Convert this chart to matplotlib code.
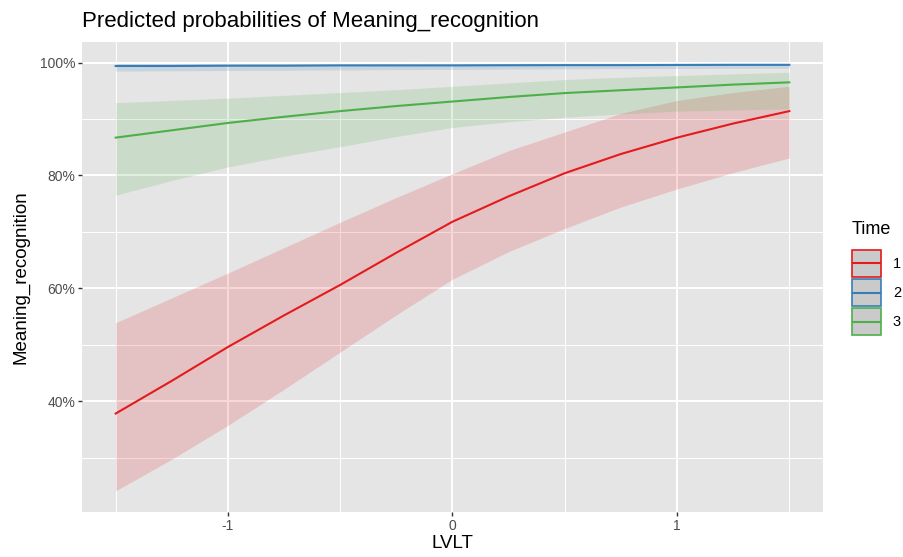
import matplotlib
matplotlib.use("Agg")
import matplotlib.pyplot as plt
from matplotlib.patches import Rectangle
from matplotlib.lines import Line2D

plt.rcParams['font.family'] = ['Liberation Sans', 'DejaVu Sans']

lvlt = [-1.5, -1.25, -1.0, -0.75, -0.5, -0.25, 0.0, 0.25, 0.5, 0.75, 1.0, 1.25, 1.5]

# Time 1
t1_pred = [0.378, 0.436, 0.496, 0.552, 0.606, 0.663, 0.718, 0.763, 0.804, 0.838, 0.867, 0.892, 0.914]
t1_low = [0.241, 0.297, 0.357, 0.421, 0.487, 0.553, 0.616, 0.665, 0.706, 0.744, 0.776, 0.805, 0.831]
t1_high = [0.539, 0.583, 0.627, 0.672, 0.717, 0.761, 0.803, 0.844, 0.877, 0.910, 0.933, 0.947, 0.958]
# Time 2
t2_pred = [0.994, 0.994, 0.9945, 0.9945, 0.995, 0.995, 0.995, 0.9953, 0.9955, 0.9955, 0.9958, 0.996, 0.996]
t2_low = [0.985, 0.9855, 0.986, 0.9865, 0.987, 0.9875, 0.988, 0.9885, 0.989, 0.9893, 0.9896, 0.9898, 0.990]
t2_high = [0.998, 0.998, 0.998, 0.9982, 0.9983, 0.9984, 0.9985, 0.9986, 0.9987, 0.9988, 0.9989, 0.999, 0.999]
# Time 3
t3_pred = [0.867, 0.880, 0.893, 0.904, 0.914, 0.923, 0.931, 0.939, 0.946, 0.951, 0.956, 0.961, 0.965]
t3_low = [0.765, 0.791, 0.815, 0.834, 0.851, 0.869, 0.885, 0.895, 0.903, 0.909, 0.914, 0.916, 0.918]
t3_high = [0.929, 0.933, 0.937, 0.942, 0.947, 0.952, 0.958, 0.964, 0.970, 0.974, 0.977, 0.980, 0.983]

times = ["1", "2", "3"]
colors = ["#E41A1C", "#377EB8", "#4DAF4A"]
preds = [t1_pred, t2_pred, t3_pred]
lows = [t1_low, t2_low, t3_low]
highs = [t1_high, t2_high, t3_high]

xticks = [-1, 0, 1]
xticklabels = ["-1", "0", "1"]
yticks = [0.4, 0.6, 0.8, 1.0]
yticklabels = ["40%", "60%", "80%", "100%"]


class KeyHandler:
    # ggplot-like legend key: grey box with coloured border and a line through it
    def legend_artist(self, legend, orig_handle, fontsize, handlebox):
        xd, yd = handlebox.xdescent, handlebox.ydescent
        w, h = handlebox.width, handlebox.height
        c = orig_handle.get_color()
        box = Rectangle((-xd, -yd), w, h, facecolor="#CACACA", edgecolor=c,
                        linewidth=1.2, transform=handlebox.get_transform())
        ln = Line2D([-xd + 1, -xd + w - 1], [-yd + h / 2, -yd + h / 2], color=c,
                    linewidth=1.5, transform=handlebox.get_transform())
        handlebox.add_artist(box)
        handlebox.add_artist(ln)
        return box


fig = plt.figure(figsize=(9.04, 5.57), dpi=100)
ax = fig.add_axes([82/904, 1-512/557, 741/904, 470/557])
ax.set_facecolor("#E5E5E5")

for lo, hi, c in zip(lows, highs, colors):
    ax.fill_between(lvlt, lo, hi, color=c, alpha=0.17, linewidth=0)
lines = []
for p, c in zip(preds, colors):
    l, = ax.plot(lvlt, p, color=c, linewidth=1.5)
    lines.append(l)

ax.set_xlim(-1.65, 1.65)
ax.set_ylim(0.2035, 1.0365)
ax.set_xticks(xticks)
ax.set_xticklabels(xticklabels)
ax.set_yticks(yticks)
ax.set_yticklabels(yticklabels)
ax.set_xticks([-1.5, -0.5, 0.5, 1.5], minor=True)
ax.set_yticks([0.3, 0.5, 0.7, 0.9], minor=True)
ax.grid(which="major", color="white", linewidth=1.4)
ax.grid(which="minor", color="white", linewidth=0.7)
ax.set_axisbelow(True)
for s in ax.spines.values():
    s.set_visible(False)
ax.tick_params(which="major", length=3, width=1, color="#333333",
               labelsize=10, labelcolor="#4D4D4D", pad=2)
ax.tick_params(which="minor", length=0)

ax.set_xlabel("LVLT", fontsize=13.5, color="black")
ax.set_ylabel("Meaning_recognition", fontsize=13.5, color="black")
ax.xaxis.set_label_coords(0.5, -0.068)
ax.xaxis.label.set_va("center")
ax.yaxis.set_label_coords(-0.082, 0.5)
ax.yaxis.label.set_va("center")
ax.set_title("Predicted probabilities of Meaning_recognition", loc="left",
             fontsize=16, pad=11)

fig.text(852/904, 1-229/557, "Time", fontsize=13, va="center", ha="left")
leg = fig.legend(lines, times, loc="upper left",
                 handler_map={Line2D: KeyHandler()},
                 bbox_to_anchor=(852/904, 1-250/557), frameon=False,
                 fontsize=10.5, handlelength=2.0, handleheight=2.47,
                 labelspacing=0.14, handletextpad=0.8, borderpad=0,
                 borderaxespad=0)

fig.savefig("out.png", dpi=100)
